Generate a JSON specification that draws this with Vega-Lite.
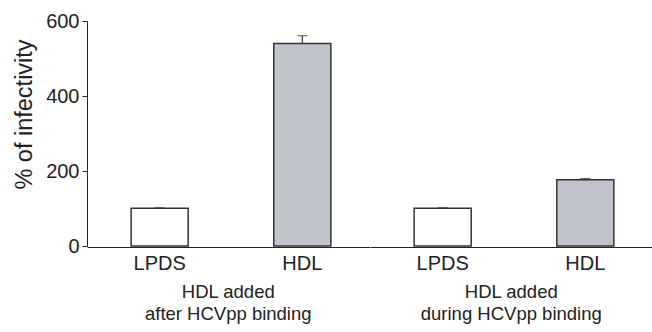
{
  "$schema": "https://vega.github.io/schema/vega-lite/v6.json",
  "padding": {"left": 11, "top": 11, "right": 0, "bottom": 0},
  "data": {"values": [
    {"group": "HDL added\nafter HCVpp binding", "treatment": "LPDS", "value": 101, "upper": 102},
    {"group": "HDL added\nafter HCVpp binding", "treatment": "HDL", "value": 540, "upper": 561},
    {"group": "HDL added\nduring HCVpp binding", "treatment": "LPDS", "value": 101, "upper": 102},
    {"group": "HDL added\nduring HCVpp binding", "treatment": "HDL", "value": 177, "upper": 180}
  ]},
  "facet": {
    "column": {
      "field": "group", "type": "nominal", "title": null,
      "header": {
        "labelOrient": "bottom",
        "labelExpr": "split(datum.value, '\\n')",
        "labelFontSize": 18.5,
        "labelFont": "Liberation Sans",
        "labelColor": "#222",
        "labelLineHeight": 22,
        "labelPadding": 10
      }
    }
  },
  "spacing": 0,
  "spec": {
    "width": 282.5,
    "height": 225,
    "encoding": {
      "x": {
        "field": "treatment", "type": "nominal", "sort": ["LPDS", "HDL"],
        "scale": {"paddingInner": 0.6, "paddingOuter": 0.29, "align": 0.533},
        "axis": {
          "title": null, "ticks": false, "tickSize": 0, "labelAngle": 0,
          "labelFontSize": 20, "labelPadding": 6, "labelColor": "#222",
          "domainColor": "#222", "domainWidth": 1.2
        }
      }
    },
    "layer": [
      {
        "mark": {"type": "bar", "stroke": "#333", "strokeWidth": 1.5},
        "encoding": {
          "y": {
            "field": "value", "type": "quantitative",
            "scale": {"domain": [0, 600], "nice": false},
            "axis": {
              "title": "% of infectivity",
              "values": [0, 100, 200, 300, 400, 500, 600],
              "labelExpr": "datum.value % 200 == 0 ? datum.label : ''",
              "grid": false, "tickSize": 5, "labelPadding": 3,
              "labelFontSize": 20, "labelColor": "#222",
              "domainColor": "#222", "tickColor": "#222",
              "titleFontSize": 23.5, "titleFontWeight": "normal", "titleColor": "#222",
              "titleX": -63, "titleY": 93, "titleAngle": -90,
              "titleAlign": "center", "titleBaseline": "middle"
            }
          },
          "fill": {
            "field": "treatment", "type": "nominal",
            "scale": {"domain": ["LPDS", "HDL"], "range": ["#ffffff", "#c1c3ca"]},
            "legend": null
          }
        }
      },
      {
        "mark": {"type": "rule", "color": "#333", "strokeWidth": 1.2},
        "encoding": {
          "y": {"field": "value", "type": "quantitative"},
          "y2": {"field": "upper"}
        }
      },
      {
        "mark": {"type": "tick", "color": "#333", "thickness": 1.2, "size": 10},
        "encoding": {
          "y": {"field": "upper", "type": "quantitative"}
        }
      }
    ]
  },
  "config": {"view": {"stroke": null}, "font": "Liberation Sans"}
}
